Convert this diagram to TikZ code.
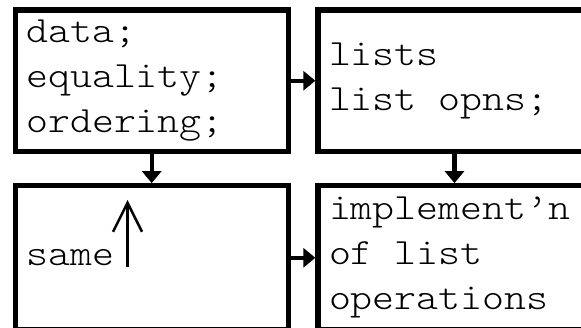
\documentclass[tikz,border=0pt]{standalone}
\usepackage{fontspec}
\newfontfamily\boxfont[Extension=.otf,FakeStretch=1.13]{lmmonolt10-regular}
\newcommand\boxtype{\boxfont\fontsize{37}{45}\selectfont}
\newcommand\gap{\makebox[21.95pt]{}}
\usetikzlibrary{arrows.meta}
\begin{document}
\begin{tikzpicture}[x=1pt,y=-1pt,
    box/.style={draw,line width=5.3pt,outer sep=0pt,anchor=north west,
        text width=251pt,inner xsep=11pt,align=left,font=\boxtype},
    flow/.style={line width=4.2pt,-{Triangle[length=12pt,width=19pt]},
        shorten <=2.65pt,shorten >=2.65pt}]
    \useasboundingbox (0,0) rectangle (581,328);
    \clip (0,0) rectangle (581,328);

    % top row
    \node[box,minimum height=141.5pt] (spec) at (15.2,10) {data;\\equality;\\ordering;};
    \node[box,minimum height=141.5pt] (lists) at (318,10) {lists\\list\gap opns;};

    % bottom row
    \node[box,minimum height=144pt] (same) at (15.2,185.8) {same};
    \node[box,minimum height=144pt] (impl) at (318,185.8) {implement’n\\of\gap list\\operations};

    % connectors
    \draw[flow] (spec.east) -- (lists.west);
    \draw[flow] (same.east) -- (impl.west);
    \draw[flow] (spec.south) -- (same.north);
    \draw[flow] (lists.south) -- (impl.north);

    % "same" pointer
    \coordinate (upfoot) at (127.5,267);
    \coordinate (uptip) at (127.5,200);
    \draw[line width=2.5pt,-{Straight Barb[length=29pt,width=29pt]}] (upfoot) -- (uptip);
\end{tikzpicture}
\end{document}
